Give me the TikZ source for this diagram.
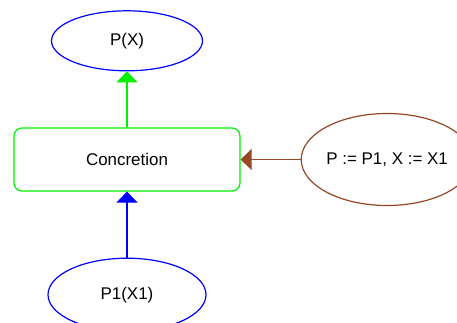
\documentclass[tikz,border=0pt]{standalone}
\usepackage{fontspec}
\setmainfont{Liberation Sans}
\usepackage{tikz}
\usepackage{xcolor}
\usetikzlibrary{arrows.meta, positioning, shapes}
\definecolor{myblue}{RGB}{0,0,255}
\definecolor{mygreen}{RGB}{0,240,0}
\definecolor{mybrown}{RGB}{150,72,38}

\begin{document}
\begin{tikzpicture}[
    x=1bp, y=1bp,
    font=\fontsize{17}{20}\selectfont,
    term/.style={ellipse, draw=myblue, line width=1.2bp, fill=white, inner sep=0pt},
    rule/.style={rectangle, rounded corners=8bp, draw=mygreen, line width=1.2bp, fill=white, minimum width=226bp, minimum height=63bp},
    subst/.style={ellipse, draw=mybrown, line width=1.2bp, fill=white, inner sep=0pt, minimum width=160bp, minimum height=92bp},
    edge/.style={-{Triangle[length=11bp, width=21bp]}, line width=1.2bp}
]
\useasboundingbox (0,0) rectangle (457,-322);

% Nodes
\node[rule] (conc) at (127,-159.5) {Concretion};
\node[term, minimum width=151bp, minimum height=60bp, above=56bp of conc] (px) {P(X)};
\node[term, minimum width=158bp, minimum height=73bp, below=66bp of conc] (p1) {P1(X1)};
\node[subst, right=60bp of conc] (sub) {P := P1, X := X1};

% Edges
\draw[edge, color=mygreen] (conc) -- (px);
\draw[edge, color=myblue] (p1) -- (conc);
\draw[edge, color=mybrown] (sub) -- (conc);

\end{tikzpicture}
\end{document}
